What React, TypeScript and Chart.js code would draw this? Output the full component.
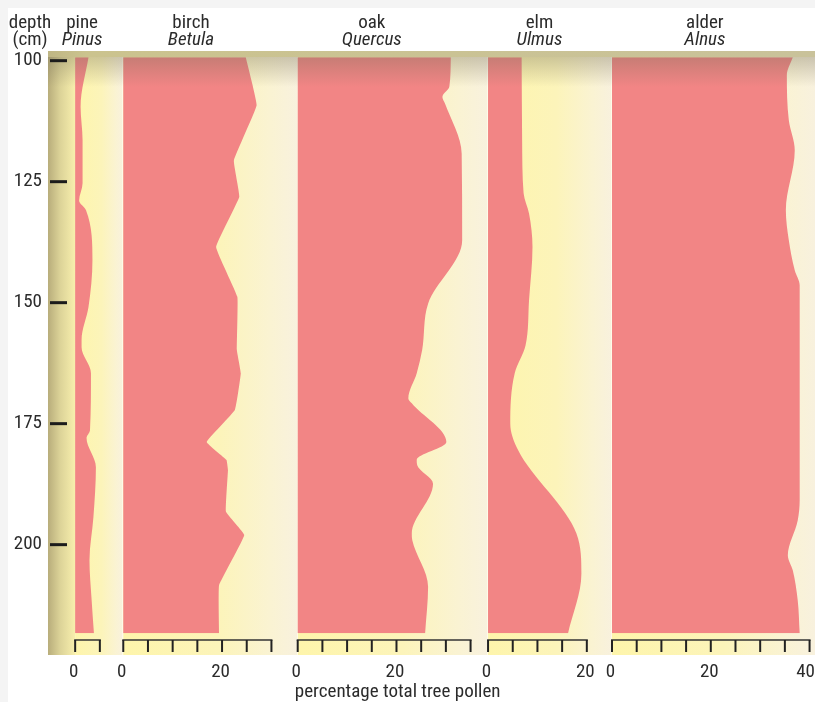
import React, { useEffect, useRef } from "react";
import { Chart, registerables } from "chart.js";

Chart.register(...registerables);

// ---------- data ----------
const taxaCommon = ["pine", "birch", "oak", "elm", "alder"];
const taxaLatin = ["Pinus", "Betula", "Quercus", "Ulmus", "Alnus"];
const panelMax = [5, 30, 35, 20, 40];

const pineDepth = [99.3, 109.5, 116.4, 125.3, 128.9, 130.9, 141.2, 150.9, 157.7, 159.2, 164.6, 176.4, 177.9, 184, 194.3, 203.2, 210.9, 218.3];
const pineValues = [2.7, 1.1, 1.5, 1.5, 0.8, 2.2, 3.5, 2.7, 1.3, 1.3, 3.2, 3.0, 2.3, 4.2, 3.7, 2.9, 3.3, 3.8];

const birchDepth = [99.3, 109.2, 120.6, 128.1, 138.5, 148.8, 159.8, 164.6, 172.2, 178.8, 182.5, 184.6, 193.2, 198, 208.4, 218.3];
const birchValues = [24.8, 27.0, 22.4, 23.5, 18.8, 23.1, 23.0, 23.8, 22.6, 16.9, 20.9, 21.2, 20.8, 24.5, 19.4, 19.4];

const oakDepth = [99.3, 105.4, 107.5, 108.8, 119.2, 137.1, 150.2, 159.8, 164.6, 169.8, 170.8, 178.8, 182.5, 183.6, 187.4, 197.7, 199.1, 208.7, 218.3];
const oakValues = [31.0, 30.7, 29.3, 29.8, 33.2, 33.3, 26.4, 25.2, 24.1, 22.4, 23.1, 30.1, 24.1, 24.2, 27.4, 23.1, 23.2, 26.4, 25.8];

const elmDepth = [99.3, 116.4, 127.4, 131.6, 138.5, 149.5, 158.8, 164.6, 175, 180.5, 197.7, 206, 218.3];
const elmValues = [6.8, 6.9, 7.2, 8.3, 9.0, 8.3, 7.6, 5.4, 4.5, 6.1, 17.9, 18.9, 16.2];

const alderDepth = [99.3, 103, 112.3, 118.5, 130.9, 137.1, 143.3, 146.4, 190.8, 195, 202.2, 205.3, 211.5, 218.3];
const alderValues = [36.6, 35.4, 35.8, 37.0, 35.2, 35.8, 37.0, 38.0, 38.0, 37.6, 35.6, 36.6, 37.6, 38.0];

const depthTicks = [100, 125, 150, 175, 200];
const minorStep = 5;
const labelStep = 20;
const xTitle = "percentage total tree pollen";

const seriesDepth = [pineDepth, birchDepth, oakDepth, elmDepth, alderDepth];
const seriesValues = [pineValues, birchValues, oakValues, elmValues, alderValues];

// ---------- layout (in % units of the shared x scale) ----------
const X_MIN = -5.5;
const panelGap = [4.74, 5.32, 3.54, 5.1];
const RIGHT_PAD = 1.1;
const headerCenter = [1.4, 13.7, 15.0, 10.4, 18.8];
const curveMode = ["monotone", "default", "monotone", "monotone", "monotone"];
const tensions = [0.3, 0.08, 0.3, 0.3, 0.3];

const offsets: number[] = [];
panelMax.forEach((m, i) => {
  if (i === 0) offsets.push(0);
  else offsets.push(offsets[i - 1] + panelMax[i - 1] + panelGap[i - 1]);
});
const X_MAX = offsets[4] + panelMax[4] + RIGHT_PAD;

const FONT = "'Liberation Sans Narrow', 'Roboto Condensed', 'DejaVu Sans Condensed', sans-serif";
const RED = "#f28585";
const TEXT = "#2b2b2b";

const decorPlugin = {
  id: "pollenDecor",
  beforeDatasetsDraw(chart: any) {
    const { ctx, chartArea, scales } = chart;
    const xs = scales.x;
    const { left, right, top, bottom } = chartArea;
    ctx.save();
    for (let i = 0; i < 5; i++) {
      const x0 = xs.getPixelForValue(offsets[i]);
      const x1 = i < 4 ? xs.getPixelForValue(offsets[i + 1]) : right;
      const g = ctx.createLinearGradient(x0, 0, x1, 0);
      g.addColorStop(0, "#fef5ab");
      g.addColorStop(0.55, "#fcf4ba");
      g.addColorStop(0.85, "#faf3d3");
      g.addColorStop(1, "#f8f1de");
      ctx.fillStyle = g;
      ctx.fillRect(x0, top, x1 - x0, bottom - top);
    }
    const p0 = xs.getPixelForValue(offsets[0]);
    const gl = ctx.createLinearGradient(left, 0, p0, 0);
    gl.addColorStop(0, "#b8ad7b");
    gl.addColorStop(0.45, "#dcd398");
    gl.addColorStop(1, "#f8efad");
    ctx.fillStyle = gl;
    ctx.fillRect(left, top, p0 - left, bottom - top);
    ctx.strokeStyle = "rgba(255,252,235,0.8)";
    ctx.lineWidth = 1;
    for (let i = 1; i < 5; i++) {
      const x = Math.round(xs.getPixelForValue(offsets[i])) - 0.5;
      ctx.beginPath();
      ctx.moveTo(x, top);
      ctx.lineTo(x, bottom);
      ctx.stroke();
    }
    ctx.restore();
  },
  afterDatasetsDraw(chart: any) {
    const { ctx, chartArea, scales, width } = chart;
    const xs = scales.x;
    const ys = scales.y;
    const { left, right, top, bottom } = chartArea;
    ctx.save();
    const gs = ctx.createLinearGradient(0, top + 6, 0, top + 36);
    gs.addColorStop(0, "rgba(115,108,85,0.34)");
    gs.addColorStop(1, "rgba(115,108,85,0)");
    ctx.fillStyle = gs;
    ctx.fillRect(left, top + 6, right - left, 30);
    const gt = ctx.createLinearGradient(left, 0, right, 0);
    gt.addColorStop(0, "#bfb684");
    gt.addColorStop(0.05, "#cbc38e");
    gt.addColorStop(1, "#c9c29a");
    ctx.fillStyle = gt;
    ctx.fillRect(left, top, right - left, 6);

    ctx.strokeStyle = "#1c1c1c";
    ctx.lineWidth = 3;
    depthTicks.forEach((d) => {
      const y = ys.getPixelForValue(d);
      ctx.beginPath();
      ctx.moveTo(left + 2, y);
      ctx.lineTo(left + 19, y);
      ctx.stroke();
    });

    const yTop = bottom - 15;
    const yBot = bottom - 3;
    for (let i = 0; i < 5; i++) {
      const a = xs.getPixelForValue(offsets[i]);
      const b = xs.getPixelForValue(offsets[i] + panelMax[i]);
      ctx.strokeStyle = "#333";
      ctx.lineWidth = 1.5;
      ctx.beginPath();
      ctx.moveTo(a - 1, yTop);
      ctx.lineTo(b + 1, yTop);
      ctx.stroke();
      ctx.strokeStyle = "#222";
      ctx.lineWidth = 2;
      for (let v = 0; v <= panelMax[i] + 1e-6; v += minorStep) {
        const x = xs.getPixelForValue(offsets[i] + v);
        ctx.beginPath();
        ctx.moveTo(x, yTop);
        ctx.lineTo(x, yBot);
        ctx.stroke();
      }
    }

    ctx.fillStyle = TEXT;
    ctx.font = `19px ${FONT}`;
    ctx.textAlign = "center";
    ctx.textBaseline = "alphabetic";
    for (let i = 0; i < 5; i++) {
      for (let v = 0; v <= panelMax[i] + 1e-6; v += labelStep) {
        const s = String(v);
        const w = ctx.measureText(s).width;
        let x = xs.getPixelForValue(offsets[i] + v) - 1.5;
        x = Math.min(x, width - w / 2);
        ctx.fillText(s, x, bottom + 22);
      }
    }
    ctx.fillText(xTitle, xs.getPixelForValue(65.3), bottom + 42);

    ctx.fillText("depth", 22, 20);
    ctx.fillText("(cm)", 22, 37);
    for (let i = 0; i < 5; i++) {
      const x = xs.getPixelForValue(offsets[i] + headerCenter[i]);
      ctx.font = `19px ${FONT}`;
      ctx.fillText(taxaCommon[i], x, 20);
      ctx.font = `italic 19px ${FONT}`;
      ctx.fillText(taxaLatin[i], x, 37);
    }
    ctx.restore();
  },
};

export default function App() {
  const canvasRef = useRef<HTMLCanvasElement | null>(null);

  useEffect(() => {
    document.documentElement.style.overflow = "hidden";
    document.body.style.background = "#f4f4f4";
    const canvas = canvasRef.current;
    if (!canvas) return;
    const datasets = seriesDepth.map((depths, i) => ({
      label: taxaCommon[i],
      data: depths.map((d, k) => ({ x: offsets[i] + seriesValues[i][k], y: d })),
      backgroundColor: RED,
      borderColor: "rgba(0,0,0,0)",
      borderWidth: 0,
      pointRadius: 0,
      tension: tensions[i],
      cubicInterpolationMode: curveMode[i],
      fill: { value: offsets[i] },
    }));
    const chart = new Chart(canvas, {
      type: "line",
      data: { datasets },
      options: {
        animation: false,
        responsive: true,
        maintainAspectRatio: false,
        indexAxis: "y",
        layout: { padding: { top: 43, bottom: 47, left: 0, right: 0 } },
        plugins: {
          legend: { display: false },
          tooltip: { enabled: false },
          filler: { propagate: false },
        },
        scales: {
          x: {
            type: "linear",
            display: false,
            min: X_MIN,
            max: X_MAX,
          },
          y: {
            type: "linear",
            reverse: true,
            min: 98,
            max: 222.8,
            grid: { display: false, drawTicks: false },
            border: { display: false },
            afterBuildTicks: (scale: any) => {
              scale.ticks = depthTicks.map((v) => ({ value: v }));
            },
            afterFit: (scale: any) => {
              scale.width = 40;
            },
            ticks: {
              color: TEXT,
              padding: 6,
              font: { family: FONT, size: 19 },
            },
          },
        },
      },
      plugins: [decorPlugin],
    } as any);
    return () => chart.destroy();
  }, []);

  return (
    <div
      style={{
        position: "absolute",
        left: 8,
        top: 8,
        width: 807,
        height: 694,
        minWidth: 807,
        flexShrink: 0,
        background: "#ffffff",
      }}
    >
      <canvas ref={canvasRef} />
    </div>
  );
}
